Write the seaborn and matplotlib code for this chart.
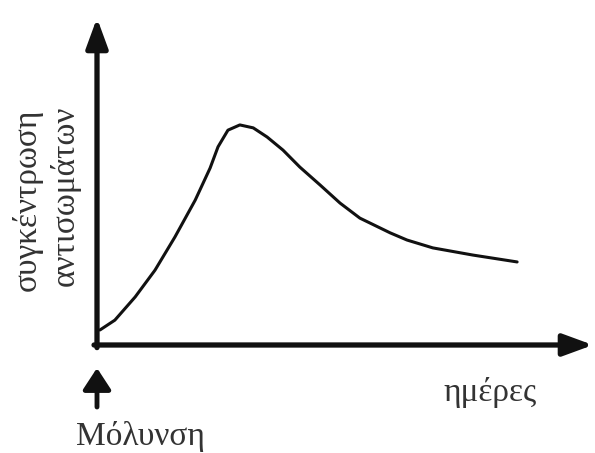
import matplotlib
matplotlib.use("Agg")
import matplotlib.pyplot as plt
import seaborn as sns
import pandas as pd

# Data (arbitrary units, axes span 0..100)
days = [0.6, 3.6, 7.7, 11.7, 15.7, 19.8, 22.8, 24.4, 26.4, 28.8, 31.5, 34.3, 37.5,
        40.9, 45.0, 49.0, 53.0, 59.1, 62.5, 67.7, 75.8, 84.7]
antibodies = [4.6, 7.6, 14.7, 22.9, 33.0, 44.3, 54.1, 60.6, 65.7, 67.3, 66.4, 63.6, 59.6,
              54.4, 48.9, 43.4, 38.8, 34.3, 32.1, 29.7, 27.5, 25.4]

ylabel_lines = ["συγκέντρωση", "αντισωμάτων"]
xlabel = "ημέρες"
infection_label = "Μόλυνση"

sns.set_theme(style="white")
plt.rcParams['font.family'] = ['Liberation Serif', 'DejaVu Serif']

W, H = 595, 453
fig = plt.figure(figsize=(W / 100, H / 100), dpi=100)
fig.patch.set_facecolor("white")

x0, y0 = 97, 345
x1, y1 = 593, 18
ax = fig.add_axes([x0 / W, 1 - y0 / H, (x1 - x0) / W, (y0 - y1) / H])
ax.set_xlim(0, 100)
ax.set_ylim(0, 100)
ax.set_facecolor("white")
for s in ax.spines.values():
    s.set_visible(False)
ax.set_xticks([])
ax.set_yticks([])

df = pd.DataFrame({"days": days, "antibodies": antibodies})
sns.lineplot(data=df, x="days", y="antibodies", ax=ax, color="#111111",
             linewidth=2.2, sort=False, estimator=None)
ax.set_xlabel("")
ax.set_ylabel("")

arrow_kw = dict(arrowstyle="-|>,head_length=1.5,head_width=0.55", color="#111111",
                lw=3.8, shrinkA=0, shrinkB=0, mutation_scale=12)
# axes arrows
ax.annotate("", xy=(1.0, 0), xytext=(-0.006, 0), xycoords="axes fraction",
            arrowprops=arrow_kw, annotation_clip=False)
ax.annotate("", xy=(0, 1.0), xytext=(0, -0.008), xycoords="axes fraction",
            arrowprops=arrow_kw, annotation_clip=False)

# infection arrow below origin
fig.patches.append(matplotlib.patches.FancyArrowPatch(
    (97 / W, 1 - 407 / H), (97 / W, 1 - 368 / H), transform=fig.transFigure,
    arrowstyle="-|>,head_length=1.3,head_width=0.85", color="#111111", lw=3.5,
    shrinkA=0, shrinkB=0, mutation_scale=10))

txt_color = "#333333"
fs = 24
fig.text(27 / W, 1 - 200 / H, ylabel_lines[0], rotation=90, ha="center", va="center",
         fontsize=fs, color=txt_color)
fig.text(65 / W, 1 - 196 / H, ylabel_lines[1], rotation=90, ha="center", va="center",
         fontsize=fs, color=txt_color)
fig.text(490 / W, 1 - 392 / H, xlabel, ha="center", va="center", fontsize=fs, color=txt_color)
fig.text(140 / W, 1 - 436 / H, infection_label, ha="center", va="center", fontsize=fs,
         color=txt_color)

fig.savefig("out.png", dpi=100, facecolor="white")
